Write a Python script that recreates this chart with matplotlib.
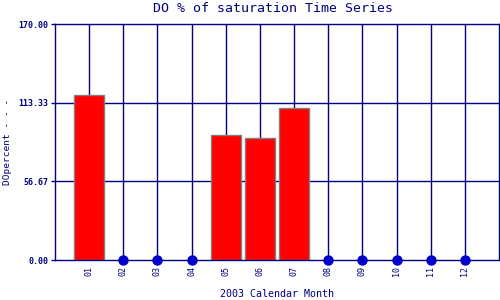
import matplotlib
matplotlib.use("Agg")
import matplotlib.pyplot as plt
import numpy as np

months = ["01", "02", "03", "04", "05", "06", "07", "08", "09", "10", "11", "12"]
values = [119.0, 0, 0, 0, 90.2, 87.9, 109.5, 0, 0, 0, 0, 0]
yticks = [0.0, 56.67, 113.33, 170.0]
title = "DO % of saturation Time Series"
xlabel = "2003 Calendar Month"
ylabel = "DOpercent - - -"

navy = "#000080"
plt.rcParams['font.family'] = ['DejaVu Sans Mono']

fig = plt.figure(figsize=(5, 3), dpi=100)
ax = fig.add_axes([55/500, 40/300, 444/500, 236/300])

x = np.arange(1, len(months) + 1)
vals = np.array(values, dtype=float)

for xi in x:
    ax.axvline(xi, color=navy, lw=1, zorder=1)
for yv in yticks[1:-1]:
    ax.axhline(yv, color=navy, lw=1, zorder=1)

mask = vals > 0
ax.bar(x[mask], vals[mask], width=0.88, color="#ff0000", edgecolor="#808080",
       linewidth=1, zorder=2)
ax.plot(x[~mask], vals[~mask], 'o', color="#0000cc", markersize=6.5, zorder=4,
        clip_on=False)

ax.set_xlim(0, 13)
ax.set_ylim(0, 170)
ax.set_xticks(x)
ax.set_xticklabels(months, rotation=90, fontsize=6, color=navy)
ax.set_yticks(yticks)
ax.set_yticklabels(["%.2f" % v for v in yticks], fontsize=6, color=navy,
                   fontweight='bold')
ax.tick_params(axis='x', length=0, pad=4)
ax.tick_params(axis='y', length=3, width=1, color=navy, pad=2)
for s in ax.spines.values():
    s.set_color(navy)
    s.set_linewidth(1)

fig.text(273/500, 1 - 9/300, title, fontsize=9.5, color=navy,
         ha='center', va='center')
ax.set_xlabel(xlabel, fontsize=7.2, color=navy)
ax.xaxis.set_label_coords(0.5, -34/236)
ax.xaxis.label.set_va('center')
ax.set_ylabel(ylabel, fontsize=6.8, color=navy)
ax.yaxis.set_label_coords(-47/444, 0.5)
ax.yaxis.label.set_va('center')

fig.savefig("out.png", dpi=100)
